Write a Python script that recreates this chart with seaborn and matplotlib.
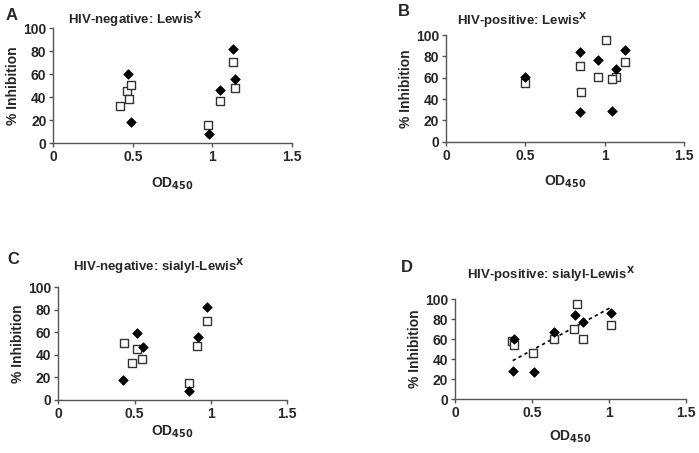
import pandas as pd
import numpy as np
import matplotlib
matplotlib.use('Agg')
import matplotlib.pyplot as plt
import seaborn as sns

sns.set_style('ticks')
plt.rcParams['font.family'] = ['Liberation Sans', 'DejaVu Sans']
plt.rcParams['font.weight'] = 'bold'

# panel A: HIV-negative Lewis X
a_fill_x = [0.468, 0.489, 0.980, 1.049, 1.133, 1.145]
a_fill_y = [60.3, 18.3, 8.4, 46.7, 82.3, 56.2]
a_open_x = [0.422, 0.466, 0.489, 0.478, 0.975, 1.049, 1.133, 1.143]
a_open_y = [32.5, 45.5, 50.4, 38.3, 15.7, 36.5, 70.4, 48.4]

# panel B: HIV-positive Lewis X
b_fill_x = [0.495, 0.843, 0.843, 0.959, 1.068, 1.045, 1.127]
b_fill_y = [60.9, 84.4, 27.8, 76.6, 67.8, 29.1, 86.3]
b_open_x = [0.495, 0.843, 0.847, 0.959, 1.007, 1.068, 1.045, 1.127]
b_open_y = [54.7, 70.6, 46.6, 60.6, 95.0, 60.6, 58.4, 74.4]

# panel C: HIV-negative sialyl-Lewis X
c_fill_x = [0.514, 0.426, 0.555, 0.858, 0.915, 0.972]
c_fill_y = [59.7, 17.7, 46.8, 7.7, 56.2, 82.2]
c_open_x = [0.428, 0.514, 0.546, 0.483, 0.858, 0.910, 0.972]
c_open_y = [50.3, 45.3, 36.4, 32.6, 15.1, 48.2, 70.4]

# panel D: HIV-positive sialyl-Lewis X
d_fill_x = [0.375, 0.384, 0.512, 0.644, 0.778, 0.835, 1.017]
d_fill_y = [28.2, 59.8, 27.2, 67.1, 84.1, 76.7, 86.4]
d_open_x = [0.373, 0.384, 0.507, 0.644, 0.776, 0.793, 0.835, 1.015]
d_open_y = [58.1, 54.2, 46.2, 60.5, 70.4, 95.3, 60.5, 74.4]

panels = [
    ('A', 'HIV-negative: Lewis$^{\\mathbf{X}}$', a_fill_x, a_fill_y, a_open_x, a_open_y,
     [0.0763, 0.6837, 0.341, 0.2539], (68, 20), (12, 15), 8, False),
    ('B', 'HIV-positive: Lewis$^{\\mathbf{X}}$', b_fill_x, b_fill_y, b_open_x, b_open_y,
     [0.638, 0.6872, 0.341, 0.2355], (457, 21), (404, 12), 8, False),
    ('C', 'HIV-negative: sialyl-Lewis$^{\\mathbf{X}}$', c_fill_x, c_fill_y, c_open_x, c_open_y,
     [0.0834, 0.117, 0.3276, 0.2488], (73, 267), (13, 260), 2, False),
    ('D', 'HIV-positive: sialyl-Lewis$^{\\mathbf{X}}$', d_fill_x, d_fill_y, d_open_x, d_open_y,
     [0.651, 0.1185, 0.330, 0.2214], (467, 275), (407, 268), 6, True),
]

fig = plt.figure(figsize=(6.99, 4.53), dpi=100)
for letter, title, fx, fy, ox, oy, rect, tpos, lpos, xpad, trend in panels:
    ax = fig.add_axes(rect)
    fill = pd.DataFrame({'od': fx, 'inh': fy})
    opn = pd.DataFrame({'od': ox, 'inh': oy})
    if trend:
        sns.regplot(data=fill, x='od', y='inh', ax=ax, scatter=False, ci=None, truncate=True,
                    line_kws={'color': 'black', 'linestyle': (0, (2, 2)), 'linewidth': 1.2})
    sns.scatterplot(data=opn, x='od', y='inh', ax=ax, marker='s', s=30,
                    facecolor='white', edgecolor='#333333', linewidth=1.0, zorder=3)
    sns.scatterplot(data=fill, x='od', y='inh', ax=ax, marker='D', s=24,
                    color='black', edgecolor='black', linewidth=0.5, zorder=4)
    ax.set_xlim(0, 1.5)
    ax.set_ylim(0, 100)
    ax.set_xticks([0, 0.5, 1, 1.5])
    ax.set_xticklabels(['0', '0.5', '1', '1.5'])
    ax.set_yticks([0, 20, 40, 60, 80, 100])
    ax.tick_params(labelsize=10, length=3, width=1, color='#555555', pad=2)
    for lab in ax.get_xticklabels() + ax.get_yticklabels():
        lab.set_fontweight('bold')
    for sp in ['left', 'bottom']:
        ax.spines[sp].set_color('#555555')
        ax.spines[sp].set_linewidth(1.0)
    sns.despine(ax=ax)
    ax.set_xlabel('OD$_{\\mathbf{450}}$', fontsize=10, fontweight='bold', labelpad=xpad)
    ax.set_ylabel('% Inhibition', fontsize=10, fontweight='bold', labelpad=2)
    fig.text(tpos[0] / 699, 1 - tpos[1] / 453, title, fontsize=9.5, fontweight='bold',
             ha='left', va='center')
    fig.text(lpos[0] / 699, 1 - lpos[1] / 453, letter, fontsize=12, fontweight='bold',
             ha='center', va='center')

fig.savefig('out.png', dpi=100)
